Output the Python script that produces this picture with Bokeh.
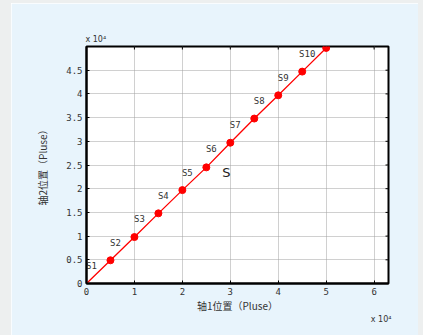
from math import pi

from bokeh.core.properties import value
from bokeh.embed import file_html
from bokeh.layouts import column, row
from bokeh.models import (ColumnDataSource, FixedTicker, Label, Range1d,
                          Spacer, Title)
from bokeh.plotting import figure
from bokeh.resources import INLINE

# Axis positions in units of 1e4 pulses
axis1_pos = [0, 0.5, 1.0, 1.5, 2.0, 2.5, 3.0, 3.5, 4.0, 4.5, 5.0]
axis2_pos = [0, 0.49, 0.98, 1.48, 1.97, 2.45, 2.97, 3.48, 3.97, 4.47, 4.97]
point_names = ["S1", "S2", "S3", "S4", "S5", "S6", "S7", "S8", "S9", "S10"]

x_ticks = [0, 1, 2, 3, 4, 5, 6]
y_ticks = [0, 0.5, 1, 1.5, 2, 2.5, 3, 3.5, 4, 4.5]
y_tick_text = ["0", "0.5", "1", "1.5", "2", "2.5", "3", "3.5", "4", "4.5"]

X_MAX, Y_MAX = 6.3, 5.0

PANEL = "#e8f4fc"
PAGE = "#edefef"
TEXT = "#333333"
MONO = "DejaVu Sans Mono"
CJK = "Noto Sans CJK SC"

p = figure(
    width=407, height=332,
    frame_width=302, frame_height=237,
    min_border_left=75, min_border_right=30,
    min_border_top=43, min_border_bottom=52,
    x_range=Range1d(0, X_MAX), y_range=Range1d(0, Y_MAX),
    output_backend="svg", toolbar_location=None,
)
p.border_fill_color = PANEL
p.background_fill_color = "white"
p.outline_line_color = "black"
p.outline_line_width = 2

for ax in (p.xaxis[0], p.yaxis[0]):
    ax.major_tick_in = 3
    ax.major_tick_out = 0
    ax.minor_tick_in = 0
    ax.minor_tick_out = 0
    ax.axis_line_color = "black"
    ax.axis_line_width = 2
    ax.major_label_text_font = MONO
    ax.major_label_text_font_size = "9px"
    ax.major_label_text_color = TEXT
    ax.major_label_standoff = 4
    ax.axis_label_text_font = CJK
    ax.axis_label_text_font_size = "10px"
    ax.axis_label_text_font_style = "normal"
    ax.axis_label_text_color = TEXT

p.xaxis.ticker = FixedTicker(ticks=x_ticks)
p.yaxis.ticker = FixedTicker(ticks=y_ticks)
p.yaxis.major_label_overrides = {t: s for t, s in zip(y_ticks, y_tick_text)}

p.xaxis.axis_label = "轴1位置（Pluse）"
p.xaxis.axis_label_standoff = 0
p.yaxis.axis_label = "轴2位置（Pluse）"
p.yaxis.axis_label_standoff = 13

p.xgrid.ticker = FixedTicker(ticks=x_ticks)
p.ygrid.ticker = FixedTicker(ticks=y_ticks)
p.grid.grid_line_color = "#a0a0a0"
p.grid.grid_line_dash = "1 1"
p.grid.grid_line_width = 1

# inward tick marks on the top and right edges (half of each dash is clipped)
p.scatter(x_ticks, [Y_MAX] * len(x_ticks), marker="dash", angle=pi / 2,
          size=6, line_color="black", line_width=1)
p.scatter([X_MAX] * len(y_ticks), y_ticks, marker="dash",
          size=6, line_color="black", line_width=1)

src = ColumnDataSource(dict(x=axis1_pos[1:], y=axis2_pos[1:], name=point_names))

p.line(axis1_pos, axis2_pos, line_color="#ff0000", line_width=1.3)
p.scatter("x", "y", source=src, size=7, color="#ff0000")
p.text("x", "y", text="name", source=src, x_offset=-19, y_offset=6,
       text_align="center", text_baseline="middle",
       text_font=value(MONO), text_font_size="9px", text_color=TEXT)

p.add_layout(Label(x=2.92, y=2.34, text="S", text_align="center",
                   text_baseline="middle", text_font="DejaVu Sans",
                   text_font_size="13px", text_color="#222222"))

# exponent notes for both axes
p.add_layout(Title(text="x 10⁴", align="left", offset=-1, standoff=5,
                   text_font="DejaVu Sans", text_font_size="8px",
                   text_font_style="normal", text_color=TEXT), "above")
p.add_layout(Title(text="x 10⁴", align="right", offset=-3, standoff=-17,
                   text_font="DejaVu Sans", text_font_size="8px",
                   text_font_style="normal", text_color=TEXT), "below")

def strip(w, h):
    return Spacer(width=w, height=h, styles={"background-color": PAGE})

page = column(
    strip(423, 3),
    row(strip(11, 332), p, strip(5, 332)),
)

open("out.html", "w").write(file_html(page, INLINE))
